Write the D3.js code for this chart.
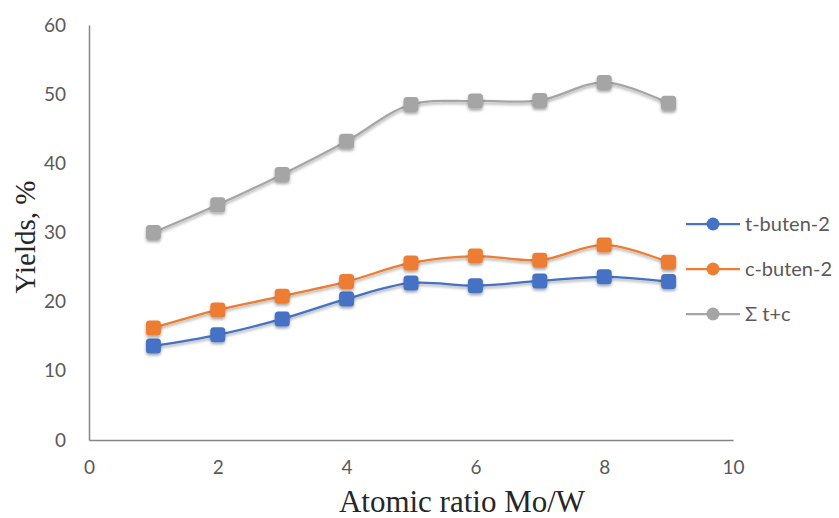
<!DOCTYPE html>
<html>
<head>
<meta charset="utf-8">
<script src="https://cdn.jsdelivr.net/npm/d3@7"></script>
<style>
  body { margin: 0; background: #fff; }
  text { font-family: Lato, "Open Sans", sans-serif; }
</style>
</head>
<body>
<svg id="chart" width="839" height="518"></svg>
<script>
const ratios = [1, 2, 3, 4, 5, 6, 7, 8, 9]
const tButen = [13.6, 15.2, 17.5, 20.4, 22.7, 22.3, 23.0, 23.6, 22.9]
const cButen = [16.2, 18.8, 20.8, 22.9, 25.6, 26.6, 26.0, 28.2, 25.7]
const sumTC = [30.0, 34.0, 38.4, 43.2, 48.5, 49.0, 49.1, 51.7, 48.7]
const seriesNames = ['t-buten-2', 'c-buten-2', 'Σ t+c']
const seriesColors = ['#4472c4', '#ed7d31', '#a5a5a5']
const xTicks = [0, 2, 4, 6, 8, 10]
const yTicks = [0, 10, 20, 30, 40, 50, 60]

const series = [tButen, cButen, sumTC].map((vals, i) => ({
  name: seriesNames[i],
  color: seriesColors[i],
  points: vals.map((v, j) => ({ x: ratios[j], y: v })),
}))

const svg = d3.select('#chart')

// soft shadow like the spreadsheet markers
const defs = svg.append('defs')
const f = defs.append('filter').attr('id', 'shadow')
  .attr('x', '-50%').attr('y', '-50%').attr('width', '200%').attr('height', '200%')
f.append('feDropShadow').attr('dx', 0).attr('dy', 2).attr('stdDeviation', 1.8)
  .attr('flood-color', '#000').attr('flood-opacity', 0.35)

const x = d3.scaleLinear().domain([0, 10]).range([89, 733])
const y = d3.scaleLinear().domain([0, 60]).range([440, 25])

// axes
svg.append('g')
  .attr('transform', 'translate(0,440)')
  .call(d3.axisBottom(x).tickValues(xTicks).tickSize(0).tickPadding(21))
  .call((g) => g.select('.domain').attr('stroke', '#868686').attr('stroke-width', 1.5))
  .selectAll('text').attr('fill', '#595959').style('font-size', '19px')

svg.append('g')
  .attr('transform', 'translate(89,0)')
  .call(d3.axisLeft(y).tickValues(yTicks).tickSize(0).tickPadding(23))
  .call((g) => g.select('.domain').attr('stroke', '#868686').attr('stroke-width', 1.5))
  .selectAll('text').attr('fill', '#595959').style('font-size', '19px')

// lines
const line = d3.line()
  .x((d) => x(d.x))
  .y((d) => y(d.y))
  .curve(d3.curveCatmullRom.alpha(0.5))

const plot = svg.append('g')
series.forEach((s) => {
  plot.append('path')
    .datum(s.points)
    .attr('fill', 'none')
    .attr('stroke', s.color)
    .attr('stroke-width', 2.25)
    .attr('filter', 'url(#shadow)')
    .attr('d', line)
})
series.forEach((s) => {
  plot.selectAll(null)
    .data(s.points)
    .enter()
    .append('rect')
    .attr('x', (d) => x(d.x) - 7.5)
    .attr('y', (d) => y(d.y) - 7.5)
    .attr('width', 15)
    .attr('height', 15)
    .attr('rx', 3.5)
    .attr('fill', s.color)
    .attr('filter', 'url(#shadow)')
})

// axis titles
svg.append('text')
  .attr('x', 462)
  .attr('y', 512)
  .attr('text-anchor', 'middle')
  .style('font-family', '"Liberation Serif", "Times New Roman", serif')
  .style('font-size', '31px')
  .attr('fill', '#262626')
  .text('Atomic ratio Mo/W')

svg.append('text')
  .attr('transform', 'translate(35,237) rotate(-90)')
  .attr('text-anchor', 'middle')
  .style('font-family', '"Liberation Serif", "Times New Roman", serif')
  .style('font-size', '29px')
  .attr('fill', '#262626')
  .text('Yields, %')

// legend
const legend = svg.append('g').attr('transform', 'translate(686,224)')
series.forEach((s, i) => {
  const g = legend.append('g').attr('transform', `translate(0,${i * 45})`)
  g.append('line').attr('x1', 0).attr('x2', 54).attr('stroke', s.color).attr('stroke-width', 2.25)
  g.append('circle').attr('cx', 27).attr('r', 6.5).attr('fill', s.color)
  g.append('text').attr('x', 59).attr('dy', '0.35em')
    .attr('fill', '#595959').style('font-size', '20px').text(s.name)
})
</script>
</body>
</html>
